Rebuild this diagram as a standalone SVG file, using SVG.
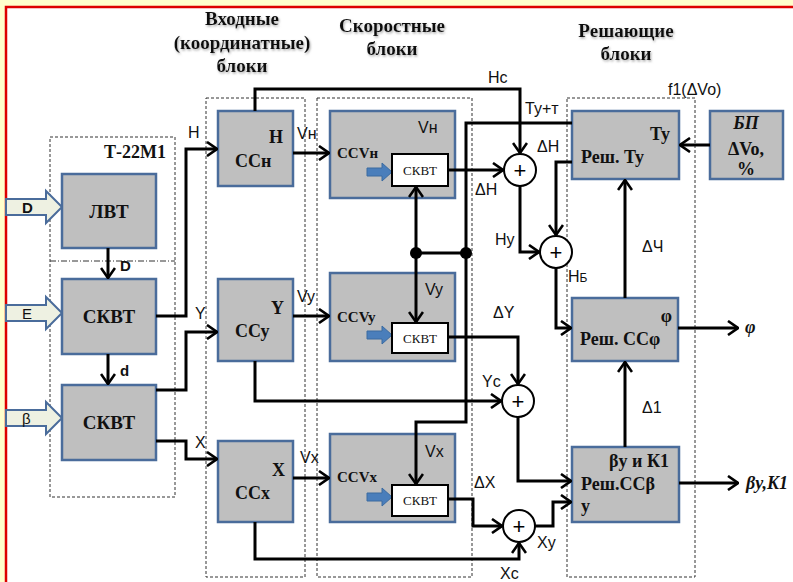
<svg xmlns="http://www.w3.org/2000/svg" width="793" height="582" viewBox="0 0 793 582">
<defs>
<style>
.blk{fill:#bfbfbf;stroke:#4a6c9b;stroke-width:2.5}
.wb{fill:#fff;stroke:#000;stroke-width:2}
.grp{fill:none;stroke:#333;stroke-width:1;stroke-dasharray:3,2}
.sum{fill:#fff;stroke:#000;stroke-width:2}
.con{fill:none;stroke:#000;stroke-width:3}
.ar{marker-end:url(#ah)}
.hd{font-family:"Liberation Serif",serif;font-weight:bold;font-size:19px;text-anchor:middle;fill:#111}
.bs{font-family:"Liberation Serif",serif;font-weight:bold;font-size:18px;fill:#111}
.bc{font-family:"Liberation Serif",serif;font-weight:bold;font-size:19px;fill:#111;text-anchor:middle}
.sm{font-family:"Liberation Serif",serif;font-size:13px;fill:#111;text-anchor:middle}
.cv{font-family:"Liberation Serif",serif;font-weight:bold;font-size:15px;fill:#111}
.lb{font-family:"Liberation Sans",sans-serif;font-size:16px;fill:#111}
.in{font-family:"Liberation Sans",sans-serif;font-size:15px;fill:#111}
.bi{font-family:"Liberation Serif",serif;font-weight:bold;font-style:italic;font-size:18px;fill:#111}
.hol{fill:#eef1e2;stroke:#4a6c9b;stroke-width:2}
.blu{fill:#4a7ebb;stroke:#3a6aa0;stroke-width:1}
.pl{font-family:"Liberation Sans",sans-serif;font-size:22px;text-anchor:middle;fill:#000}
</style>
<marker id="ah" viewBox="0 0 12 16" refX="11" refY="8" markerWidth="12" markerHeight="16" markerUnits="userSpaceOnUse" orient="auto">
<path d="M1,1 L11,8 L1,15" fill="none" stroke="#000" stroke-width="2.6"/>
</marker>
<filter id="sh" x="-10%" y="-10%" width="120%" height="130%">
<feDropShadow dx="1" dy="1.5" stdDeviation="1" flood-color="#888" flood-opacity="0.7"/>
</filter>
</defs>

<!-- background -->
<rect x="0" y="0" width="793" height="582" fill="#ffffcc"/>
<rect x="6" y="7" width="787" height="575" fill="#fff"/>
<path d="M6,582 V7 H793" fill="none" stroke="#dd0000" stroke-width="2.5"/>

<!-- headers -->
<g id="headers" filter="url(#sh)">
<text class="hd" x="242" y="25">Входные</text>
<text class="hd" x="242" y="49">(координатные)</text>
<text class="hd" x="242" y="72">блоки</text>
<text class="hd" x="392" y="32">Скоростные</text>
<text class="hd" x="392" y="55">блоки</text>
<text class="hd" x="626" y="37">Решающие</text>
<text class="hd" x="626" y="60">блоки</text>
</g>

<!-- group boxes -->
<g id="groups">
<rect class="grp" x="50" y="137" width="125" height="360"/>
<path d="M50,261 H175" fill="none" stroke="#333" stroke-width="1" stroke-dasharray="6,2,1,2"/>
<text class="bs" x="166" y="158" text-anchor="end" font-size="17">Т-22М1</text>
<rect class="grp" x="206" y="98" width="99" height="479"/>
<rect class="grp" x="317" y="98" width="155" height="479"/>
<rect class="grp" x="567" y="98" width="128" height="479"/>
<text class="lb" x="668" y="95" font-size="17">f1(ΔVo)</text>
</g>

<!-- input arrows -->
<g id="in-D">
<polygon class="hol" points="6,199 46,199 46,191 62,207 46,223 46,215 6,215"/>
<text class="in" x="22" y="213" font-weight="bold">D</text>
</g>
<g id="in-E">
<polygon class="hol" points="6,305 46,305 46,297 62,313 46,329 46,321 6,321"/>
<text class="in" x="22" y="319">E</text>
</g>
<g id="in-beta">
<polygon class="hol" points="6,410 46,410 46,402 62,418 46,434 46,426 6,426"/>
<text class="in" x="22" y="424">β</text>
</g>

<!-- T-22M1 blocks -->
<g id="lvt"><rect class="blk" x="62" y="174" width="94" height="74"/><text class="bc" x="109" y="218">ЛВТ</text></g>
<g id="skvt1"><rect class="blk" x="62" y="279" width="94" height="75"/><text class="bc" x="109" y="323">СКВТ</text></g>
<g id="skvt2"><rect class="blk" x="62" y="385" width="94" height="75"/><text class="bc" x="109" y="429">СКВТ</text></g>

<!-- input coordinate blocks -->
<g id="ssh"><rect class="blk" x="218" y="111" width="75" height="75"/>
<text class="bs" x="283" y="143" text-anchor="end">Н</text>
<text class="bs" x="235" y="167">ССн</text></g>
<g id="ssy"><rect class="blk" x="218" y="279" width="75" height="82"/>
<text class="bs" x="284" y="314" text-anchor="end">Y</text>
<text class="bs" x="235" y="337">ССу</text></g>
<g id="ssx"><rect class="blk" x="218" y="441" width="75" height="81"/>
<text class="bs" x="285" y="476" text-anchor="end">X</text>
<text class="bs" x="235" y="499">ССх</text></g>

<!-- speed blocks -->
<g id="ccvh"><rect class="blk" x="330" y="111" width="125" height="87"/>
<text class="lb" x="418" y="133">Vн</text>
<text class="cv" x="337" y="158">CCVн</text>
<polygon class="blu" points="367,168 382,168 382,163 392,172 382,181 382,176 367,176"/>
<rect class="wb" x="392" y="154" width="56" height="32"/>
<text class="sm" x="420" y="175">СКВТ</text></g>
<g id="ccvy"><rect class="blk" x="330" y="273" width="125" height="88"/>
<text class="lb" x="425" y="295">Vy</text>
<text class="cv" x="337" y="322">CCVy</text>
<polygon class="blu" points="367,331 382,331 382,326 392,335 382,344 382,339 367,339"/>
<rect class="wb" x="392" y="323" width="56" height="30"/>
<text class="sm" x="420" y="343">СКВТ</text></g>
<g id="ccvx"><rect class="blk" x="330" y="434" width="125" height="88"/>
<text class="lb" x="425" y="457">Vx</text>
<text class="cv" x="337" y="482">CCVx</text>
<polygon class="blu" points="367,493 382,493 382,488 392,497 382,506 382,501 367,501"/>
<rect class="wb" x="392" y="485" width="56" height="31"/>
<text class="sm" x="420" y="505">СКВТ</text></g>

<!-- decision blocks -->
<g id="resh-ty"><rect class="blk" x="572" y="111" width="107" height="68"/>
<text class="bs" x="670" y="140" text-anchor="end" font-size="19">Ту</text>
<text class="bs" x="581" y="163" font-size="19">Реш. Ту</text></g>
<g id="bp"><rect class="blk" x="710" y="111" width="73" height="68"/>
<text class="bi" x="746" y="129" text-anchor="middle">БП</text>
<text class="bs" x="746" y="155" text-anchor="middle">ΔVo,</text>
<text class="bs" x="746" y="175" text-anchor="middle">%</text></g>
<g id="resh-phi"><rect class="blk" x="572" y="298" width="106" height="63"/>
<text class="bs" x="672" y="322" text-anchor="end" font-size="19">φ</text>
<text class="bs" x="580" y="345" font-size="19">Реш. ССφ</text></g>
<g id="resh-beta"><rect class="blk" x="572" y="447" width="107" height="75"/>
<text class="bs" x="669" y="467" text-anchor="end" font-size="19">βу и К1</text>
<text class="bs" x="581" y="490" font-size="19">Реш.ССβ</text>
<text class="bs" x="581" y="512" font-size="19">у</text></g>

<!-- summing junctions -->
<g id="sum1"><circle class="sum" cx="520" cy="170" r="16"/><text class="pl" x="520" y="178">+</text></g>
<g id="sum2"><circle class="sum" cx="556" cy="252" r="16"/><text class="pl" x="556" y="260">+</text></g>
<g id="sum3"><circle class="sum" cx="518" cy="401" r="16"/><text class="pl" x="518" y="409">+</text></g>
<g id="sum4"><circle class="sum" cx="519" cy="526" r="16"/><text class="pl" x="519" y="534">+</text></g>

<!-- connectors -->
<g id="connectors">
<path class="con ar" d="M108,248 V278"/>
<path class="con ar" d="M108,354 V384"/>
<path class="con ar" d="M156,316 H186 V149 H217"/>
<path class="con ar" d="M156,390 H186 V332 H217"/>
<path class="con ar" d="M156,441 H186 V459 H217"/>
<path class="con ar" d="M293,153 H329"/>
<path class="con ar" d="M293,316 H329"/>
<path class="con ar" d="M293,478 H329"/>
<path class="con ar" d="M255,111 V89 H520 V153"/>
<path class="con ar" d="M448,170 H503"/>
<path class="con ar" d="M520,186 V252 H539"/>
<path class="con ar" d="M572,123 H466 V422 H416 V484"/>
<path class="con" d="M416,253 H466"/>
<path class="con ar" d="M416,253 V187"/>
<path class="con ar" d="M416,253 V322"/>
<path class="con ar" d="M572,162 H556 V235"/>
<path class="con ar" d="M556,268 V328 H571"/>
<path class="con ar" d="M448,337 H518 V384"/>
<path class="con ar" d="M255,361 V401 H501"/>
<path class="con ar" d="M518,417 V481 H571"/>
<path class="con ar" d="M448,499 H473 V526 H502"/>
<path class="con ar" d="M255,522 V559 H519 V543"/>
<path class="con ar" d="M535,526 H553 V502 H571"/>
<path class="con ar" d="M625,447 V362"/>
<path class="con ar" d="M625,298 V180"/>
<path class="con ar" d="M710,145 H680"/>
<path class="con ar" d="M678,328 H738"/>
<path class="con ar" d="M679,483 H738"/>
<circle cx="416" cy="253" r="6" fill="#000"/>
<circle cx="466" cy="253" r="6" fill="#000"/>
</g>

<!-- connector labels -->
<g id="labels">
<text class="in" x="120" y="271" font-weight="bold">D</text>
<text class="in" x="120" y="376" font-weight="bold">d</text>
<text class="lb" x="188" y="138">H</text>
<text class="lb" x="195" y="319">Y</text>
<text class="lb" x="195" y="448">X</text>
<text class="lb" x="297" y="139">Vн</text>
<text class="lb" x="297" y="302">Vy</text>
<text class="lb" x="300" y="463">Vx</text>
<text class="lb" x="488" y="83">Нс</text>
<text class="lb" x="525" y="114">Ту+т</text>
<text class="lb" x="537" y="152">ΔH</text>
<text class="lb" x="475" y="195">ΔH</text>
<text class="lb" x="495" y="245">Ну</text>
<text class="lb" x="568" y="282">Н<tspan font-size="12">Б</tspan></text>
<text class="lb" x="493" y="318">ΔY</text>
<text class="lb" x="482" y="387">Yc</text>
<text class="lb" x="474" y="488">ΔX</text>
<text class="lb" x="537" y="548">Xy</text>
<text class="lb" x="500" y="579">Xc</text>
<text class="lb" x="642" y="252">ΔЧ</text>
<text class="lb" x="642" y="413">Δ1</text>
<text class="bi" x="745" y="333">φ</text>
<text class="bi" x="746" y="489">βy,K1</text>
</g>
</svg>
